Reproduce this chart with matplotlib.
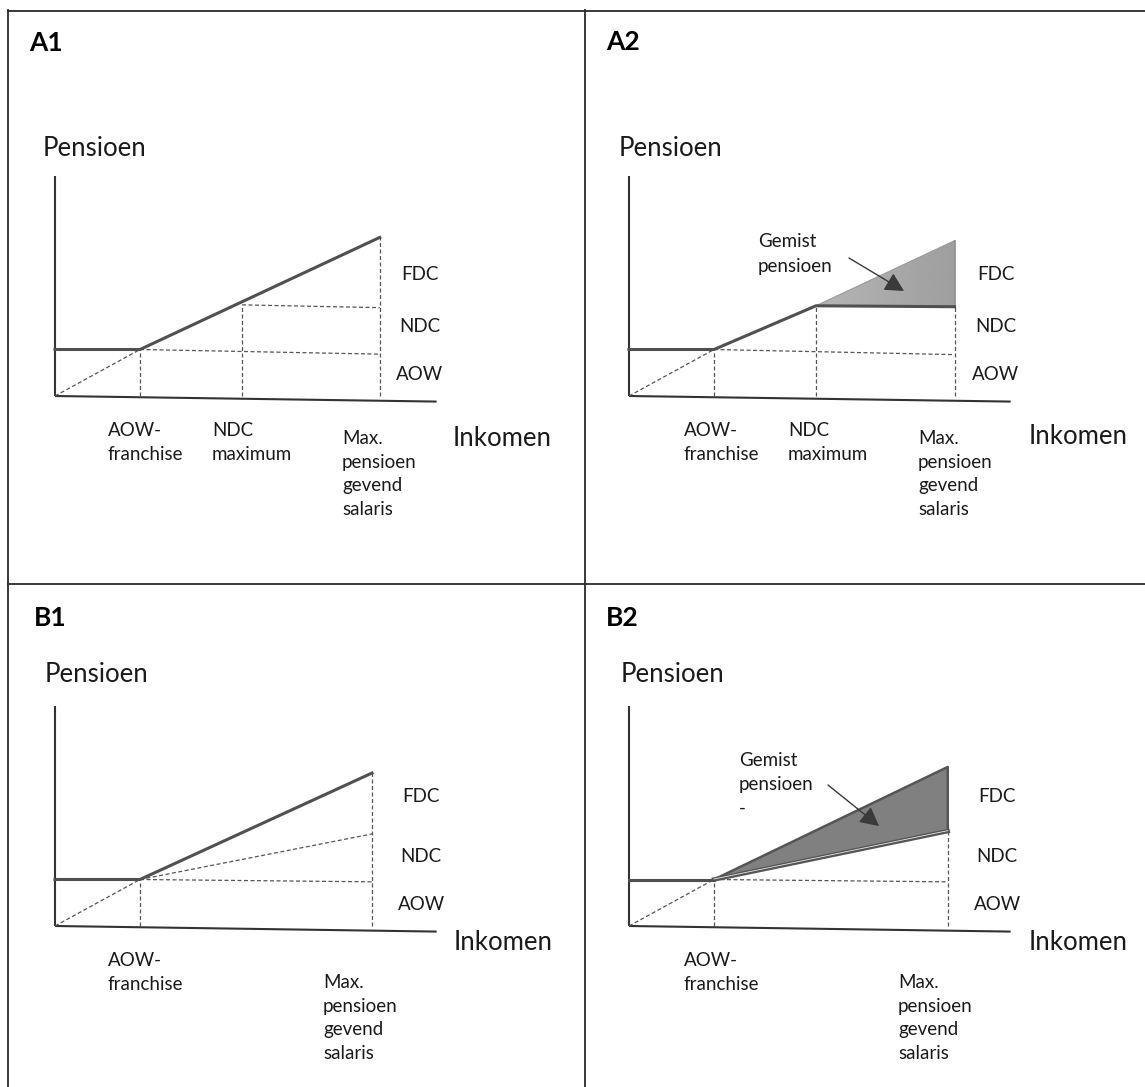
import matplotlib
matplotlib.use('Agg')
import matplotlib.pyplot as plt
from matplotlib.lines import Line2D
from matplotlib.patches import Polygon
import numpy as np

plt.rcParams['font.family'] = ['Lato', 'DejaVu Sans']

W, H, DPI = 1145, 1087, 100

# ---------------- data (income in AOW-franchise units, pension in AOW units)
panels = ['A1', 'A2', 'B1', 'B2']
franchise = 1.0
ndc_max = 2.2
aow = 1.0
max_salary = {'A1': 3.82, 'A2': 3.83, 'B1': 3.73, 'B2': 3.75}
aow_end = {'A1': 0.90, 'A2': 0.89, 'B1': 0.95, 'B2': 0.95}
pension_at_ndc_max = {'A1': 1.96, 'A2': 1.94}
ndc_end = {'A1': 1.90, 'A2': 1.92, 'B1': 1.98, 'B2': 2.04}
pension_top = {'A1': 3.41, 'A2': 3.34, 'B1': 3.29, 'B2': 3.42}
axis_x_end = 4.49
axis_x_end_y = -0.12
axis_y_top = 4.74

x_labels_A = ['AOW-\nfranchise', 'NDC\nmaximum', 'Max.\npensioen\ngevend\nsalaris']
x_labels_B = ['AOW-\nfranchise', 'Max.\npensioen\ngevend\nsalaris']
band_labels = ['FDC', 'NDC', 'AOW']
y_title = 'Pensioen'
x_title = 'Inkomen'
missed_A = 'Gemist\npensioen'
missed_B = 'Gemist\npensioen\n-'

# ---------------- layout (pixels)
boxes = {'A1': (8, 10, 585, 585), 'A2': (585, 10, 1145, 585),
         'B1': (8, 585, 585, 1087), 'B2': (585, 585, 1145, 1087)}
origins = {'A1': (55, 396), 'A2': (629, 396), 'B1': (55, 926), 'B2': (629, 926)}
SX, SY = 85.0, 46.5

LINE = '#505050'
AXC = '#333333'
DASH = '#555555'
TXT = '#1a1a1a'

fig = plt.figure(figsize=(W / DPI, H / DPI), dpi=DPI)
fig.patch.set_facecolor('white')


def dash(ax, xs, ys):
    ax.plot(xs, ys, color=DASH, lw=0.9, dashes=(3.2, 2.0), solid_capstyle='butt')


ARROW = dict(arrowstyle='-|>,head_length=1.15,head_width=0.6',
             color='#3a3a3a', lw=1.0, shrinkA=0, shrinkB=0)

for p in panels:
    x0, y0, x1, y1 = boxes[p]
    ox, oy = origins[p]
    ax = fig.add_axes([x0 / W, 1 - y1 / H, (x1 - x0) / W, (y1 - y0) / H])
    ax.set_xlim((x0 - ox) / SX, (x1 - ox) / SX)
    ax.set_ylim((oy - y1) / SY, (oy - y0) / SY)
    ax.axis('off')

    def d(px, py, ox=ox, oy=oy):
        return ((px - ox) / SX, (oy - py) / SY)

    mx = max_salary[p]
    top = pension_top[p]

    # axes
    ax.plot([0, 0], [0, axis_y_top], color=AXC, lw=1.5, solid_capstyle='butt')
    ax.plot([0, axis_x_end], [0, axis_x_end_y], color=AXC, lw=1.5, solid_capstyle='butt')

    # common dashed lines
    dash(ax, [0, franchise], [0, aow])
    dash(ax, [franchise, franchise], [0, aow])
    dash(ax, [franchise, mx], [aow, aow_end[p]])

    if p == 'A1':
        pn = pension_at_ndc_max[p]
        dash(ax, [ndc_max, ndc_max], [0, pn])
        dash(ax, [ndc_max, mx], [pn, ndc_end[p]])
        dash(ax, [mx, mx], [0, top])
        ax.plot([0, franchise, mx], [aow, aow, top], color=LINE, lw=2.2,
                solid_joinstyle='round')
    elif p == 'A2':
        pn = pension_at_ndc_max[p]
        dash(ax, [ndc_max, ndc_max], [0, pn])
        dash(ax, [mx, mx], [0, ndc_end[p]])
        poly_xy = np.array([[ndc_max, pn], [mx, top], [mx, ndc_end[p]]])
        poly = Polygon(poly_xy, closed=True, facecolor='none', edgecolor='none')
        ax.add_patch(poly)
        grad = np.linspace(0.71, 0.62, 256).reshape(1, -1)
        im = ax.imshow(grad, cmap='gray', vmin=0, vmax=1, aspect='auto',
                       extent=[ndc_max, mx, pn - 0.1, top + 0.05],
                       interpolation='bilinear', zorder=1)
        im.set_clip_path(poly)
        ax.plot([ndc_max, mx], [pn, top], color='#9a9a9a', lw=0.8, zorder=2)
        ax.plot([mx, mx], [ndc_end[p], top], color='#8a8a8a', lw=1.2, zorder=2)
        ax.plot([0, franchise, ndc_max, mx], [aow, aow, pn, ndc_end[p]],
                color=LINE, lw=2.2, solid_joinstyle='round', zorder=3)
    elif p == 'B1':
        dash(ax, [mx, mx], [0, top])
        dash(ax, [franchise, mx], [aow, ndc_end[p]])
        ax.plot([0, franchise, mx], [aow, aow, top], color=LINE, lw=2.2,
                solid_joinstyle='round')
    else:  # B2
        dash(ax, [mx, mx], [0, ndc_end[p]])
        poly = Polygon([[franchise, aow], [mx, top], [mx, ndc_end[p]]], closed=True,
                       facecolor='#808080', edgecolor='#555555', lw=1.8,
                       joinstyle='round', zorder=2)
        ax.add_patch(poly)
        ax.plot([franchise, mx], [aow, ndc_end[p]], color='#555555', lw=3.2, zorder=3)
        ax.plot([franchise, mx], [aow + 0.01, ndc_end[p] + 0.01], color='#e8e8e8',
                lw=0.6, zorder=4)
        ax.plot([0, franchise], [aow, aow], color=LINE, lw=2.2, zorder=3)

    # ---------------- texts
    fs_big, fs_small = 18.5, 13.5
    if p in ('A1', 'A2'):
        tpos = {'A1': (29, 43), 'A2': (606, 42)}[p]
        ppos = {'A1': (43, 149), 'A2': (619, 149)}[p]
        ipos = {'A1': (453, 438), 'A2': (1029, 437)}[p]
        bx = {'A1': 420, 'A2': 996}[p]
        bys = [274, 327, 375]
        xl = x_labels_A
        xlpos = {'A1': [(108, 429), (212, 429), (342, 437)],
                 'A2': [(684, 429), (788, 429), (918, 437)]}[p]
    else:
        tpos = {'B1': (34, 618), 'B2': (606, 618)}[p]
        ppos = {'B1': (45, 674), 'B2': (621, 674)}[p]
        ipos = {'B1': (454, 943), 'B2': (1029, 943)}[p]
        bx = {'B1': 421, 'B2': 997}[p]
        bys = [797, 857, 905]
        xl = x_labels_B
        xlpos = {'B1': [(108, 959), (323, 981)],
                 'B2': [(684, 959), (898, 981)]}[p]

    ax.text(*d(*tpos), p, fontsize=19, fontweight='bold', color='black',
            ha='left', va='center')
    ax.text(*d(*ppos), y_title, fontsize=fs_big, color=TXT, ha='left', va='center')
    ax.text(*d(*ipos), x_title, fontsize=fs_big, color=TXT, ha='left', va='center')
    for lab, by in zip(band_labels, bys):
        ax.text(*d(bx, by), lab, fontsize=fs_small, color=TXT, ha='center', va='center')
    for lab, (lx, ly) in zip(xl, xlpos):
        ax.text(*d(lx, ly - 7), lab, fontsize=fs_small, color=TXT, ha='left',
                va='top', linespacing=1.47)

    if p == 'A2':
        ax.text(*d(758, 240 - 7), missed_A, fontsize=fs_small, color=TXT,
                ha='left', va='top', linespacing=1.55)
        ax.annotate('', xy=d(904, 291), xytext=d(849, 258), arrowprops=ARROW, zorder=5)
    if p == 'B2':
        ax.text(*d(739, 759 - 7), missed_B, fontsize=fs_small, color=TXT,
                ha='left', va='top', linespacing=1.5)
        ax.annotate('', xy=d(879, 826), xytext=d(828, 785), arrowprops=ARROW, zorder=5)

# ---------------- panel borders
def fline(xs, ys):
    fig.add_artist(Line2D([x / W for x in xs], [1 - y / H for y in ys],
                          transform=fig.transFigure, color='#2a2a2a', lw=1.3))

fline([8, 1145], [10.5, 10.5])
fline([8, 8], [10, 1087])
fline([585, 585], [10, 1087])
fline([8, 1145], [584, 584])

fig.savefig('out.png', dpi=DPI, facecolor='white')
